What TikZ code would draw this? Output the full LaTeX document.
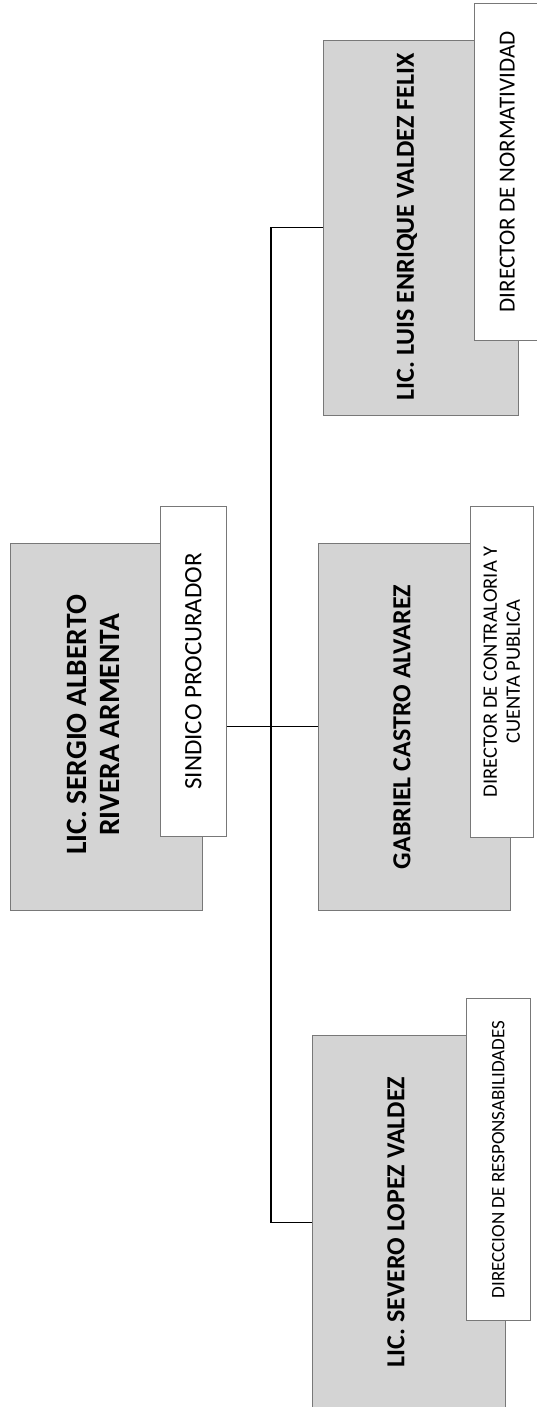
\documentclass[tikz,border=0pt]{standalone}
\usepackage{fontspec}
\setmainfont{Carlito}
\definecolor{boxgray}{RGB}{212,212,212}
\definecolor{edgegray}{RGB}{120,120,120}
\begin{document}
\begin{tikzpicture}[x=1pt,y=-1pt,
  namebox/.style={draw=edgegray, line width=0.7pt, fill=boxgray, inner sep=0pt, anchor=north west},
  titlebox/.style={draw=edgegray, line width=0.7pt, fill=white, inner sep=0pt, anchor=north west},
  nametext/.style={rotate=90, font=\fontsize{26}{30}\selectfont\bfseries, align=center, inner sep=0pt},
  titletext/.style={rotate=90, align=center, inner sep=0pt},
  conn/.style={draw=black, line width=1.1pt}]
\useasboundingbox (0,0) rectangle (537,1407);
% gray name boxes
\node[namebox, minimum width=192pt, minimum height=367pt] (serg) at (10,543) {};
\node[namebox, minimum width=195pt, minimum height=375pt] (luis) at (323,40) {};
\node[namebox, minimum width=192pt, minimum height=367pt] (gab) at (318,543) {};
\node[namebox, minimum width=193pt, minimum height=374pt] (sev) at (312,1035) {};
% white title boxes
\node[titlebox, minimum width=66pt, minimum height=330pt] (sind) at (160,506) {};
\node[titlebox, minimum width=66pt, minimum height=337pt] (norm) at (474,3) {};
\node[titlebox, minimum width=63pt, minimum height=331pt] (contr) at (470,506) {};
\node[titlebox, minimum width=64pt, minimum height=322pt] (resp) at (466,998) {};
% name texts
\node[nametext, font=\fontsize{29.5}{33}\selectfont\bfseries] (sergt) at (93,725) {LIC. SERGIO ALBERTO\\RIVERA ARMENTA};
\node[nametext] (luist) at (407,227) {LIC. LUIS ENRIQUE VALDEZ FELIX};
\node[nametext] (gabt) at (402,727) {GABRIEL CASTRO ALVAREZ};
\node[nametext] (sevt) at (396,1222) {LIC. SEVERO LOPEZ VALDEZ};
% title texts
\node[titletext, font=\fontsize{25}{29}\selectfont] (sindt) at (sind.center) {SINDICO PROCURADOR};
\node[titletext, font=\fontsize{23}{27}\selectfont] (normt) at (norm.center) {DIRECTOR DE NORMATIVIDAD};
\node[titletext, font=\fontsize{20.5}{23}\selectfont] (contrt) at (contr.center) {DIRECTOR DE CONTRALORIA Y\\CUENTA PUBLICA};
\node[titletext, font=\fontsize{19}{23}\selectfont] (respt) at (resp.center) {DIRECCION DE RESPONSABILIDADES};
% connectors
\coordinate (bus) at (271,0);
\draw[conn] (sind.east |- gab.west) -- (gab.west);
\draw[conn] (luis.west) -- (luis.west -| bus) -- (sev.west -| bus) -- (sev.west);
\end{tikzpicture}
\end{document}
